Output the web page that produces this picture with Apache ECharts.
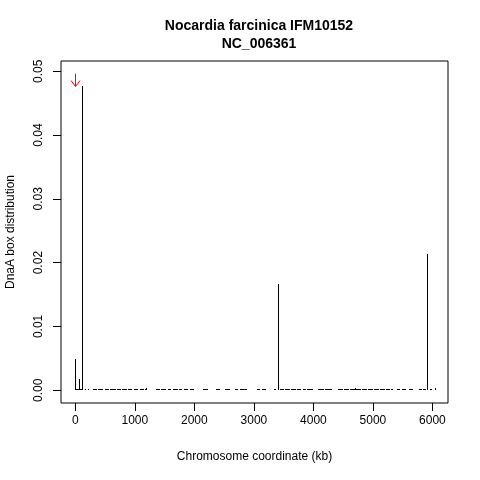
<!DOCTYPE html>
<html>
<head>
<meta charset="utf-8">
<script src="https://cdn.jsdelivr.net/npm/echarts@6/dist/echarts.min.js"></script>
<style>html,body{margin:0;padding:0;background:#fff}#c{width:480px;height:480px}</style>
</head>
<body>
<div id="c"></div>
<script>
// Tall spikes: position (kb) and DnaA box distribution value
var spikePos = [0, 60, 111, 1194, 3409, 4700, 5916, 6040];
var spikeVal = [0.0049, 0.00177, 0.0477, 0.0004, 0.01666, 0.0003, 0.0214, 0.0004];
// Near-zero runs along the baseline: start kb, end kb, value
var lowStart = [0, 160, 215, 300, 380, 490, 580, 700, 780, 880, 980, 1080, 1170, 1360, 1440, 1550, 1640, 1740, 1820, 1930, 2150, 2370, 2510, 2680, 2770, 3050, 3130, 3330, 3440, 3520, 3620, 3720, 3820, 3900, 4080, 4200, 4420, 4520, 4620, 4720, 4820, 4920, 5020, 5120, 5220, 5300, 5400, 5490, 5600, 5770, 5850, 5960];
var lowEnd   = [111, 175, 230, 360, 470, 560, 680, 760, 860, 960, 1060, 1150, 1200, 1420, 1530, 1610, 1720, 1800, 1900, 2000, 2230, 2430, 2600, 2740, 2880, 3110, 3210, 3380, 3500, 3600, 3700, 3800, 3880, 4000, 4180, 4310, 4500, 4600, 4700, 4800, 4900, 5000, 5100, 5200, 5280, 5340, 5460, 5560, 5680, 5830, 5900, 6000];
var lowVal = 0.00012;
// Arrow marking the origin
var arrowPos = [0];
var arrowTop = [0.0496];
var arrowTip = [0.0476];
// Ticks
var xTicks = [0, 1000, 2000, 3000, 4000, 5000, 6000];
var yTicks = [0, 0.01, 0.02, 0.03, 0.04, 0.05];

var spikeData = spikePos.map(function (p, i) { return [p, spikeVal[i]]; });
var lowData = lowStart.map(function (s, i) { return [s, lowEnd[i], lowVal]; });
var arrowData = arrowPos.map(function (p, i) { return [p, arrowTop[i], arrowTip[i]]; });

var font = '"Liberation Sans", Arial, Helvetica, sans-serif';
var chart = echarts.init(document.getElementById('c'), null, {renderer: 'canvas'});
chart.setOption({
  animation: false,
  backgroundColor: '#fff',
  title: {
    text: 'Nocardia farcinica IFM10152\nNC_006361',
    left: 254, textAlign: 'center', top: 12,
    textStyle: {fontFamily: font, fontSize: 14, fontWeight: 'bold', color: '#000', lineHeight: 18}
  },
  grid: {left: 61, right: 32, top: 61, bottom: 77, show: true, borderColor: '#000', borderWidth: 1,
    backgroundColor: 'transparent', containLabel: false, outerBoundsMode: 'none'},
  xAxis: {
    type: 'value', min: -241, max: 6262,
    axisLine: {show: false, onZero: false},
    splitLine: {show: false},
    axisTick: {show: true, inside: false, length: 8, customValues: xTicks, lineStyle: {color: '#000'}},
    axisLabel: {customValues: xTicks, margin: 12, fontFamily: font, fontSize: 12, color: '#000',
      formatter: function (v) { return String(v); }},
    name: 'Chromosome coordinate (kb)', nameLocation: 'middle', nameGap: 48,
    nameTextStyle: {fontFamily: font, fontSize: 12, color: '#000'}
  },
  yAxis: {
    type: 'value', min: -0.002, max: 0.0516,
    axisLine: {show: false, onZero: false},
    splitLine: {show: false},
    axisTick: {show: true, inside: false, length: 8, customValues: yTicks, lineStyle: {color: '#000'}},
    axisLabel: {customValues: yTicks, rotate: 90, margin: 16, fontFamily: font, fontSize: 12, color: '#000',
      formatter: function (v) { return v.toFixed(2); }},
    name: 'DnaA box distribution', nameLocation: 'middle', nameGap: 44, nameRotate: 90,
    nameTextStyle: {fontFamily: font, fontSize: 12, color: '#000'}
  },
  series: [
    {
      type: 'custom', data: lowData, encode: {x: [0, 1], y: 2},
      renderItem: function (params, api) {
        var a = api.coord([api.value(0), api.value(2)]);
        var b = api.coord([api.value(1), 0]);
        var x0 = Math.round(a[0]), x1 = Math.max(Math.round(b[0]), x0 + 1);
        var y1 = Math.round(b[1]);
        var h = Math.max(1, y1 - Math.round(a[1]));
        return {type: 'rect', shape: {x: x0, y: y1 - h, width: x1 - x0, height: h}, style: {fill: '#000'}};
      }
    },
    {
      type: 'custom', data: spikeData, encode: {x: 0, y: 1},
      renderItem: function (params, api) {
        var a = api.coord([api.value(0), api.value(1)]);
        var b = api.coord([api.value(0), 0]);
        var x = Math.round(a[0]);
        var yt = Math.round(a[1]), yb = Math.round(b[1]);
        return {type: 'rect', shape: {x: x, y: yt, width: 1, height: Math.max(1, yb - yt)}, style: {fill: '#000'}};
      }
    },
    {
      type: 'custom', data: arrowData, encode: {x: 0, y: [1, 2]},
      renderItem: function (params, api) {
        var t = api.coord([api.value(0), api.value(1)]);
        var p = api.coord([api.value(0), api.value(2)]);
        var x = Math.round(p[0]) + 0.5;
        return {type: 'group', children: [
          {type: 'line', shape: {x1: x, y1: t[1], x2: x, y2: p[1]}, style: {stroke: '#ff0000', lineWidth: 1}},
          {type: 'polyline', shape: {points: [[x - 4.5, p[1] - 6], [x, p[1]], [x + 4.5, p[1] - 6]]}, style: {stroke: '#ff0000', lineWidth: 1, fill: null}}
        ]};
      }
    }
  ]
});
</script>
</body>
</html>
